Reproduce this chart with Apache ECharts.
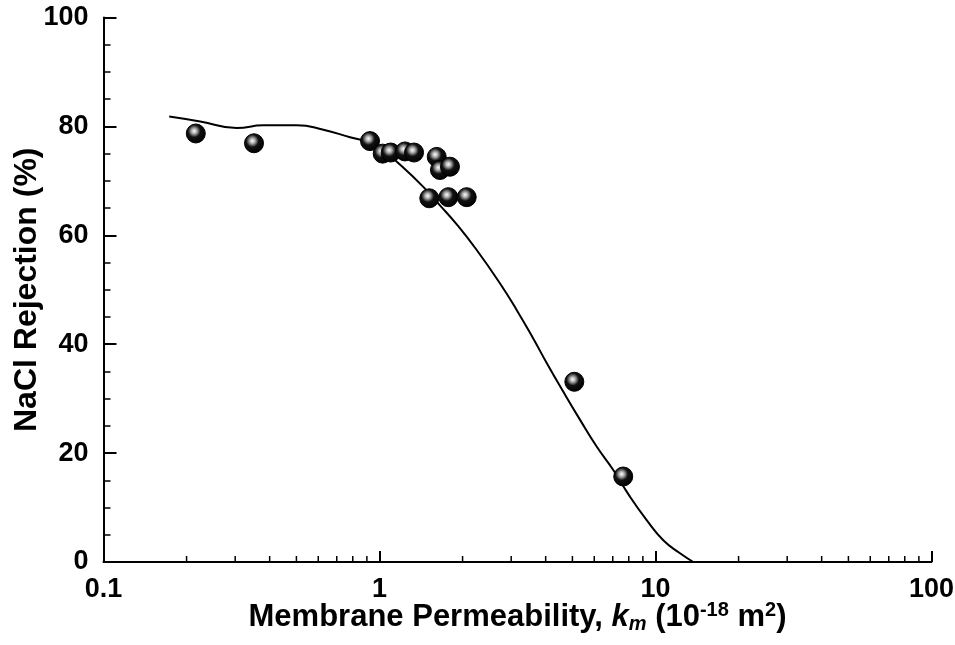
<!DOCTYPE html>
<html><head><meta charset="utf-8">
<script src="https://cdn.jsdelivr.net/npm/echarts@6/dist/echarts.min.js"></script>
<style>html,body{margin:0;padding:0;background:#fff}#c{width:955px;height:645px}</style>
</head><body><div id="c"></div>
<script>
// Measured points
const pointsX = [0.216, 0.351, 0.924, 1.027, 1.098, 1.237, 1.334, 1.612, 1.656, 1.80, 1.515, 1.776, 2.07, 5.08, 7.64];
const pointsY = [78.7, 76.9, 77.3, 75.0, 75.2, 75.4, 75.2, 74.4, 72.0, 72.6, 66.8, 67.0, 67.0, 33.1, 15.7];
// Model curve
const curveX = [0.173, 0.224, 0.304, 0.379, 0.501, 0.626, 0.782, 0.924, 1.03, 1.122, 1.441, 1.656, 1.905, 2.25, 2.73, 3.14, 3.61, 4.03, 4.63, 5.33, 6.12, 7.03, 8.08, 9.29, 10.67, 12.27, 13.71];
const curveY = [81.8, 80.9, 79.7, 80.2, 80.2, 79.4, 78.0, 77.0, 75.7, 74.1, 68.9, 65.5, 62.0, 57.3, 51.2, 46.3, 41.0, 36.6, 31.3, 26.1, 21.2, 16.9, 12.0, 7.7, 4.0, 1.6, 0.0];
// Axis ticks
const xTicks = [0.1, 1, 10, 100];
const xMinorTicks = [0.2,0.3,0.4,0.5,0.6,0.7,0.8,0.9, 2,3,4,5,6,7,8,9, 20,30,40,50,60,70,80,90];
const yTicks = [0, 20, 40, 60, 80, 100];

const FONT = 'Liberation Sans, Arial, sans-serif';
const chart = echarts.init(document.getElementById('c'), null, {renderer: 'canvas'});

const ballColor = {
  type: 'radial', x: 0.42, y: 0.38, r: 0.62,
  colorStops: [
    {offset: 0, color: '#ffffff'},
    {offset: 0.22, color: '#aaaaaa'},
    {offset: 0.5, color: '#111111'},
    {offset: 1, color: '#000000'}
  ]
};

chart.setOption({
  animation: false,
  backgroundColor: '#fff',
  grid: {left: 103.5, right: 23.5, top: 17.5, bottom: 83, containLabel: false, outerBoundsMode: 'none'},
  xAxis: {
    type: 'log', logBase: 10, min: xTicks[0], max: xTicks[xTicks.length - 1],
    axisLine: {show: true, onZero: false, lineStyle: {color: '#000', width: 2}},
    axisTick: {show: true, inside: true, length: 11, lineStyle: {color: '#000', width: 2}},
    minorTick: {show: false},
    splitLine: {show: false},
    axisLabel: {
      color: '#000', fontFamily: FONT, fontWeight: 'bold', fontSize: 27, margin: 14,
      formatter: v => String(+v.toPrecision(3))
    },
    name: 'Membrane Permeability, {it|k}{sub|m} (10{sup|-18} m{sup|2})',
    nameLocation: 'middle', nameGap: 38, nameMoveOverlap: false,
    nameTextStyle: {
      color: '#000', fontFamily: FONT, fontWeight: 'bold', fontSize: 31, lineHeight: 34,
      rich: {
        it: {fontFamily: FONT, fontStyle: 'italic', fontWeight: 'bold', fontSize: 31, color: '#000', lineHeight: 34},
        sub: {fontFamily: FONT, fontStyle: 'italic', fontWeight: 'bold', fontSize: 20, color: '#000', verticalAlign: 'bottom', lineHeight: 20},
        sup: {fontFamily: FONT, fontWeight: 'bold', fontSize: 20, color: '#000', verticalAlign: 'top', lineHeight: 20}
      }
    }
  },
  yAxis: {
    type: 'value', min: yTicks[0], max: yTicks[yTicks.length - 1], interval: 20,
    axisLine: {show: true, lineStyle: {color: '#000', width: 2}},
    axisTick: {show: true, inside: true, length: 13, lineStyle: {color: '#000', width: 2}},
    minorTick: {show: true, splitNumber: 4, length: 7, lineStyle: {color: '#000', width: 1.5}},
    splitLine: {show: false},
    axisLabel: {color: '#000', fontFamily: FONT, fontWeight: 'bold', fontSize: 27, margin: 15},
    name: 'NaCl Rejection (%)',
    nameLocation: 'middle', nameGap: 60, nameMoveOverlap: false,
    nameTextStyle: {color: '#000', fontFamily: FONT, fontWeight: 'bold', fontSize: 32}
  },
  series: [
    {
      type: 'custom', coordinateSystem: 'cartesian2d', silent: true, clip: false, z: 3,
      data: xMinorTicks.map(v => [v, 0]),
      renderItem: (params, api) => {
        const p = api.coord([api.value(0), 0]);
        return {type: 'line', shape: {x1: p[0], y1: p[1], x2: p[0], y2: p[1] - 6},
                style: {stroke: '#000', lineWidth: 1.5}};
      }
    },
    {
      type: 'line', data: curveX.map((x, i) => [x, curveY[i]]),
      showSymbol: false, smooth: 0.5, clip: true,
      lineStyle: {color: '#000', width: 2}, z: 4
    },
    {
      type: 'scatter', data: pointsX.map((x, i) => [x, pointsY[i]]),
      symbol: 'circle', symbolSize: 19,
      itemStyle: {color: ballColor, borderColor: '#000', borderWidth: 1, opacity: 1},
      z: 5
    }
  ]
});
</script>
</body></html>
